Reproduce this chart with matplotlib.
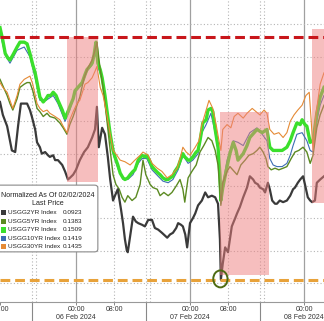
import numpy as np
import matplotlib
matplotlib.use("Agg")
import matplotlib.pyplot as plt
from matplotlib.patches import Rectangle, Ellipse, FancyBboxPatch

plt.rcParams["font.family"] = ["Liberation Sans", "DejaVu Sans"]

# hours counted from 05 Feb 2024 00:00, values normalized as of 02/02/2024
hours_2yr = [8.0, 8.6, 9.5, 10.1, 10.5, 11.2, 11.8, 12.4, 13.1, 13.7,
             14.3, 14.7, 15.4, 15.8, 16.4, 16.8, 17.5, 18.1, 18.5, 19.2,
             19.6, 20.2, 21.1, 21.7, 22.3, 22.7, 23.4, 24.0, 24.8, 25.7,
             26.5, 27.4, 28.0, 28.4, 28.8, 29.5, 30.1, 30.7, 31.2, 31.8,
             32.2, 32.8, 33.5, 33.9, 34.3, 34.7, 34.9, 35.6, 36.0, 36.6,
             37.1, 37.9, 38.5, 39.2, 40.0, 40.6, 41.3, 42.1, 43.2, 43.8,
             44.4, 45.1, 45.5, 46.1, 46.5, 47.0, 47.4, 48.0, 48.6, 49.1,
             49.7, 50.5, 51.2, 51.8, 52.6, 53.3, 53.9, 54.3, 54.5, 54.9,
             55.4, 56.0, 56.4, 56.8, 57.5, 57.9, 58.5, 59.2, 60.0, 60.6,
             61.3, 61.7, 62.3, 62.7, 63.4, 63.8, 64.4, 64.8, 65.3, 65.9,
             66.3, 66.9, 67.6, 68.4, 69.1, 69.7, 70.1, 70.7, 71.2, 71.8,
             72.2, 72.8, 73.3, 73.7, 74.3, 74.7, 75.4, 76.2]
usgg2yr = [0.132, 0.124, 0.117, 0.108, 0.102, 0.101, 0.117, 0.131, 0.131, 0.131,
           0.127, 0.123, 0.115, 0.107, 0.104, 0.100, 0.101, 0.099, 0.098, 0.099,
           0.096, 0.096, 0.093, 0.089, 0.084, 0.085, 0.087, 0.090, 0.096, 0.101,
           0.104, 0.110, 0.115, 0.129, 0.104, 0.116, 0.112, 0.098, 0.084, 0.071,
           0.074, 0.078, 0.065, 0.057, 0.047, 0.040, 0.039, 0.053, 0.061, 0.058,
           0.057, 0.056, 0.055, 0.059, 0.059, 0.054, 0.053, 0.051, 0.048, 0.050,
           0.051, 0.054, 0.057, 0.056, 0.055, 0.050, 0.042, 0.057, 0.060, 0.063,
           0.068, 0.071, 0.076, 0.073, 0.074, 0.073, 0.069, 0.047, 0.022, 0.032,
           0.042, 0.039, 0.047, 0.055, 0.060, 0.063, 0.067, 0.073, 0.079, 0.086,
           0.084, 0.082, 0.081, 0.079, 0.078, 0.076, 0.082, 0.078, 0.071, 0.069,
           0.069, 0.071, 0.070, 0.071, 0.074, 0.078, 0.079, 0.082, 0.084, 0.086,
           0.081, 0.073, 0.071, 0.070, 0.071, 0.082, 0.084, 0.086]

hours_5yr = [8.0, 8.6, 9.5, 10.1, 10.7, 11.6, 12.2, 13.1, 13.7, 14.3,
             14.9, 15.8, 16.4, 17.1, 17.9, 18.5, 19.6, 20.6, 21.3, 22.1,
             22.7, 23.4, 24.2, 24.8, 25.7, 26.5, 27.4, 28.0, 28.4, 29.1,
             29.7, 30.5, 31.2, 31.8, 32.4, 33.1, 33.7, 34.3, 34.9, 35.8,
             36.6, 37.5, 38.1, 38.7, 39.6, 40.2, 41.1, 41.7, 42.5, 43.4,
             44.2, 45.1, 45.9, 46.5, 46.9, 47.6, 48.4, 49.3, 50.1, 50.9,
             51.8, 52.6, 53.3, 53.9, 54.5, 54.9, 55.8, 56.4, 57.3, 57.9,
             58.7, 59.6, 60.4, 61.3, 62.1, 62.7, 63.4, 64.0, 64.4, 65.1,
             65.9, 66.7, 67.6, 68.4, 69.3, 70.1, 70.9, 71.8, 72.6, 73.3,
             73.9, 74.7, 75.4, 76.2]
usgg5yr = [0.146, 0.142, 0.136, 0.131, 0.127, 0.134, 0.141, 0.143, 0.144, 0.144,
           0.139, 0.128, 0.126, 0.123, 0.125, 0.123, 0.122, 0.119, 0.116, 0.112,
           0.118, 0.123, 0.130, 0.135, 0.147, 0.153, 0.158, 0.164, 0.169, 0.152,
           0.141, 0.121, 0.102, 0.087, 0.081, 0.078, 0.073, 0.070, 0.074, 0.071,
           0.073, 0.081, 0.096, 0.087, 0.081, 0.079, 0.078, 0.074, 0.076, 0.074,
           0.076, 0.080, 0.084, 0.078, 0.070, 0.085, 0.089, 0.093, 0.101, 0.105,
           0.110, 0.108, 0.102, 0.093, 0.068, 0.082, 0.089, 0.092, 0.089, 0.087,
           0.093, 0.096, 0.099, 0.100, 0.102, 0.104, 0.101, 0.097, 0.092, 0.090,
           0.091, 0.090, 0.091, 0.092, 0.097, 0.101, 0.102, 0.104, 0.101, 0.094,
           0.099, 0.116, 0.124, 0.130]

hours_7yr = [8.0, 8.6, 9.1, 9.7, 10.1, 10.7, 11.6, 12.2, 13.1, 13.7,
             14.3, 14.9, 15.4, 16.0, 16.4, 17.1, 17.7, 18.1, 18.7, 19.2,
             19.8, 20.2, 21.1, 21.7, 22.3, 22.7, 23.4, 23.8, 24.4, 25.3,
             25.9, 26.3, 26.9, 27.4, 27.8, 28.2, 28.6, 29.1, 29.5, 30.1,
             30.5, 31.2, 31.8, 32.2, 32.8, 33.3, 33.9, 34.3, 34.9, 35.4,
             36.0, 36.4, 37.1, 37.9, 38.5, 38.9, 39.6, 40.0, 40.6, 41.3,
             41.7, 42.3, 42.9, 43.4, 43.8, 44.4, 44.8, 45.5, 46.1, 46.5,
             46.9, 47.6, 48.0, 48.6, 49.3, 49.7, 50.1, 50.5, 50.7, 51.4,
             51.8, 52.4, 52.8, 53.3, 53.9, 54.3, 54.5, 54.9, 55.8, 56.4,
             57.1, 57.7, 58.1, 59.2, 60.0, 60.6, 61.5, 62.1, 63.2, 64.2,
             64.8, 65.5, 66.3, 67.4, 68.4, 69.1, 69.7, 70.5, 71.2, 71.6,
             72.2, 72.6, 73.3, 73.9, 74.7, 75.4, 76.2]
usgg7yr = [0.178, 0.170, 0.162, 0.159, 0.158, 0.161, 0.166, 0.169, 0.169, 0.168,
           0.162, 0.155, 0.150, 0.141, 0.135, 0.132, 0.134, 0.136, 0.136, 0.138,
           0.136, 0.133, 0.127, 0.122, 0.126, 0.129, 0.134, 0.139, 0.141, 0.144,
           0.149, 0.152, 0.154, 0.156, 0.161, 0.169, 0.156, 0.152, 0.147, 0.136,
           0.127, 0.112, 0.102, 0.098, 0.093, 0.088, 0.085, 0.084, 0.085, 0.087,
           0.089, 0.090, 0.096, 0.099, 0.098, 0.099, 0.095, 0.092, 0.090, 0.088,
           0.087, 0.085, 0.084, 0.084, 0.085, 0.086, 0.089, 0.092, 0.097, 0.100,
           0.098, 0.096, 0.096, 0.098, 0.101, 0.102, 0.108, 0.115, 0.119, 0.121,
           0.127, 0.128, 0.126, 0.115, 0.104, 0.087, 0.071, 0.079, 0.092, 0.100,
           0.107, 0.102, 0.096, 0.100, 0.105, 0.110, 0.113, 0.115, 0.113, 0.115,
           0.104, 0.102, 0.102, 0.102, 0.104, 0.108, 0.113, 0.119, 0.118, 0.121,
           0.118, 0.117, 0.107, 0.108, 0.125, 0.135, 0.141]

hours_10yr = [8.0, 9.1, 10.1, 11.6, 13.1, 14.3, 15.4, 16.4, 17.7, 19.2,
              20.2, 21.7, 22.7, 23.8, 25.3, 26.3, 27.4, 28.2, 28.6, 29.5,
              30.5, 31.8, 32.8, 33.9, 34.9, 36.0, 37.1, 37.9, 38.9, 40.0,
              41.3, 42.3, 43.4, 44.4, 45.5, 46.5, 47.6, 48.6, 49.7, 50.5,
              51.4, 52.4, 53.3, 53.9, 54.5, 54.9, 55.8, 57.1, 58.1, 59.2,
              60.6, 62.1, 63.2, 64.2, 64.8, 65.5, 66.3, 67.4, 68.4, 69.1,
              69.7, 70.5, 71.6, 72.6, 73.3, 73.9, 74.7, 75.4, 76.2]
usgg10yr = [0.175, 0.161, 0.156, 0.164, 0.166, 0.160, 0.147, 0.133, 0.133, 0.136,
            0.131, 0.120, 0.127, 0.138, 0.143, 0.151, 0.155, 0.166, 0.154, 0.146,
            0.125, 0.100, 0.091, 0.084, 0.084, 0.087, 0.094, 0.097, 0.097, 0.090,
            0.086, 0.083, 0.082, 0.084, 0.090, 0.099, 0.094, 0.096, 0.100, 0.113,
            0.118, 0.125, 0.113, 0.102, 0.069, 0.081, 0.096, 0.108, 0.107, 0.105,
            0.113, 0.116, 0.112, 0.108, 0.097, 0.093, 0.092, 0.092, 0.094, 0.099,
            0.105, 0.112, 0.113, 0.108, 0.102, 0.101, 0.120, 0.130, 0.136]

hours_30yr = [8.0, 8.6, 9.5, 10.1, 10.7, 11.6, 12.2, 13.1, 13.7, 14.3,
              14.9, 15.8, 16.4, 17.1, 17.9, 18.5, 19.6, 20.6, 21.3, 22.1,
              22.7, 23.4, 24.2, 24.8, 25.9, 26.5, 27.4, 28.0, 28.4, 29.1,
              29.7, 30.5, 31.2, 31.8, 32.6, 33.3, 34.3, 35.4, 36.4, 37.5,
              38.1, 39.2, 40.0, 41.1, 42.1, 43.2, 44.2, 45.3, 45.9, 46.5,
              47.2, 48.0, 49.1, 49.9, 50.5, 51.4, 52.0, 52.8, 53.5, 54.1,
              54.5, 54.9, 55.8, 56.6, 57.3, 58.1, 59.2, 60.0, 61.1, 61.9,
              62.7, 63.6, 64.2, 64.8, 65.7, 66.7, 67.6, 68.4, 69.1, 69.9,
              70.7, 71.6, 72.4, 73.1, 73.5, 73.9, 74.5, 75.4, 76.2]
usgg30yr = [0.144, 0.141, 0.138, 0.133, 0.128, 0.136, 0.143, 0.146, 0.147, 0.148,
            0.143, 0.131, 0.128, 0.126, 0.127, 0.125, 0.123, 0.121, 0.117, 0.113,
            0.121, 0.126, 0.131, 0.133, 0.143, 0.144, 0.147, 0.151, 0.154, 0.141,
            0.136, 0.124, 0.112, 0.102, 0.099, 0.096, 0.095, 0.093, 0.096, 0.099,
            0.101, 0.099, 0.094, 0.091, 0.089, 0.085, 0.087, 0.091, 0.097, 0.104,
            0.101, 0.099, 0.104, 0.108, 0.118, 0.127, 0.133, 0.128, 0.118, 0.108,
            0.102, 0.115, 0.118, 0.116, 0.123, 0.125, 0.122, 0.125, 0.128, 0.126,
            0.124, 0.127, 0.125, 0.115, 0.112, 0.113, 0.110, 0.113, 0.120, 0.124,
            0.127, 0.130, 0.136, 0.138, 0.121, 0.102, 0.124, 0.143, 0.150]

series_names = ["USGG2YR Index", "USGG5YR Index", "USGG7YR Index",
                "USGG10YR Index", "USGG30YR Index"]
last_prices = [0.0923, 0.1383, 0.1509, 0.1419, 0.1435]
series_colors = ["#3a3a3a", "#5b8a22", "#3bdf2c", "#3c6db3", "#e58a35"]

high_level = 0.172
low_level = 0.022
# shaded moves: (start hour, end hour, low, high)
shaded = [(22.0, 28.6, 0.0825, 0.172),
          (54.3, 64.6, 0.025, 0.126),
          (73.7, 78.0, 0.0695, 0.177)]

tick_hours = [8, 24, 32, 48, 56, 72]
tick_labels = ["08:00", "00:00\n06 Feb 2024", "08:00",
               "00:00\n07 Feb 2024", "08:00", "00:00\n08 Feb 2024"]
session_breaks = [14.7, 38.7, 62.7]

fig = plt.figure(figsize=(3.24, 3.21), dpi=100)
ax = fig.add_axes([0, 19 / 321, 1, 302 / 321])
ax.set_xlim(8, 8 + 324 / 4.75)
ax.set_ylim(0.0082, 0.1951)

# grid
ax.set_yticks(np.arange(0.02, 0.19, 0.02))
ax.yaxis.grid(True, linestyle=(0, (1, 2)), color="#b4b4b4", lw=0.8)
ax.tick_params(axis="y", left=False, labelleft=False)
for h in [24, 48, 72]:
    ax.axvline(h, color="#a0a0a0", lw=0.9, zorder=1)
for h in [32, 56] + session_breaks + [b + 0.9 for b in session_breaks]:
    ax.axvline(h, color="#b4b4b4", lw=0.8, linestyle=(0, (1, 2)), zorder=1)

# series
ax.plot(hours_10yr, usgg10yr, color=series_colors[3], lw=0.8, zorder=2)
ax.plot(hours_7yr, usgg7yr, color=series_colors[2], lw=2.4, zorder=2)
ax.plot(hours_5yr, usgg5yr, color=series_colors[1], lw=1.0, zorder=2)
ax.plot(hours_30yr, usgg30yr, color=series_colors[4], lw=0.8, zorder=2)
ax.plot(hours_2yr, usgg2yr, color=series_colors[0], lw=1.6, zorder=2)

for x0, x1, y0, y1 in shaded:
    ax.add_patch(Rectangle((x0, y0), x1 - x0, y1 - y0, facecolor="#ee7f7f",
                           alpha=0.5, lw=0, zorder=3))

ax.axhline(high_level, color="#c8161b", lw=2.2, linestyle=(0, (3.2, 1.6)), zorder=4)
ax.axhline(low_level, color="#e8a23a", lw=2.2, linestyle=(0, (3.2, 1.6)), zorder=4)
ax.add_patch(Ellipse((54.4, 0.0225), width=3.0, height=0.0105, fill=False,
                     edgecolor="#4d6b12", lw=1.4, zorder=5))

# x axis
ax.set_xticks(tick_hours)
ax.set_xticklabels(tick_labels, fontsize=5.0, color="#333333", linespacing=1.1)
ax.set_xticks(session_breaks, minor=True)
ax.tick_params(axis="x", which="major", length=2.5, width=0.7, color="#888888", pad=0.5)
ax.tick_params(axis="x", which="minor", length=14, width=0.8, color="#888888")
for s in ["top", "left", "right"]:
    ax.spines[s].set_visible(False)
ax.spines["bottom"].set_color("#999999")
ax.spines["bottom"].set_linewidth(0.8)

# legend box
ax.add_patch(FancyBboxPatch((-0.02, 0.166), 0.322, 0.221, transform=ax.transAxes,
                            boxstyle="round,pad=0,rounding_size=0.01",
                            facecolor="white", edgecolor="#8a8a8a", lw=0.8, zorder=10))
ax.text(0.148, 0.354, "Normalized As Of 02/02/2024", transform=ax.transAxes,
        ha="center", va="center", fontsize=5.1, color="#222222", zorder=11)
ax.text(0.148, 0.325, "Last Price", transform=ax.transAxes,
        ha="center", va="center", fontsize=5.1, color="#222222", zorder=11)
row_y = [0.296, 0.267, 0.239, 0.211, 0.183]
for name, val, col, yy in zip(series_names, last_prices, series_colors, row_y):
    ax.add_patch(Rectangle((0.003, yy - 0.009), 0.016, 0.018, transform=ax.transAxes,
                           facecolor=col, edgecolor="none", zorder=11))
    ax.text(0.025, yy, name, transform=ax.transAxes, ha="left", va="center",
            fontsize=4.6, color="#222222", zorder=11)
    ax.text(0.194, yy, f"{val:.4f}", transform=ax.transAxes, ha="left", va="center",
            fontsize=4.6, color="#222222", zorder=11)

fig.savefig("out.png", dpi=100)
